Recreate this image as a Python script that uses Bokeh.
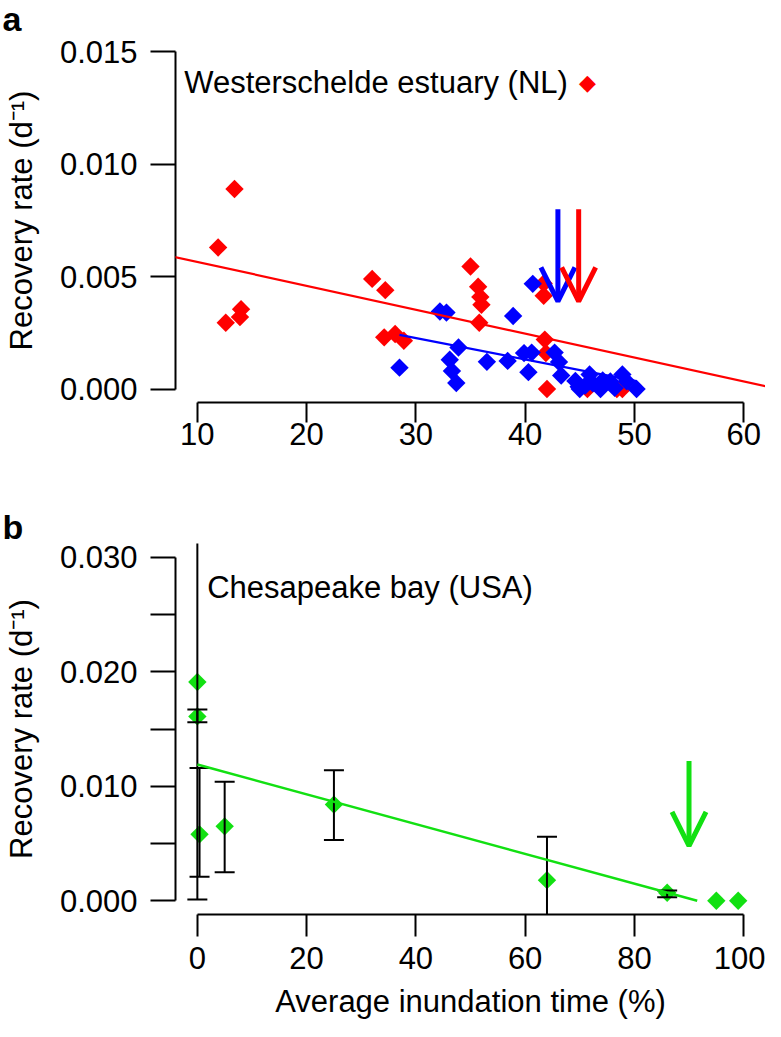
import numpy as np
from bokeh.plotting import figure
from bokeh.models import (LinearAxis, FixedTicker, PrintfTickFormatter, Arrow, OpenHead,
                          Slope, Label, Range1d)
from bokeh.layouts import column
from bokeh.embed import file_html
from bokeh.resources import INLINE

FONT = "Liberation Sans"

# ---------------- Panel a: Westerschelde estuary (NL) ----------------
red_x = [11.9, 13.4, 12.6, 13.9, 14.0, 26.0, 27.2, 27.1, 28.1, 28.9,
         35.0, 35.7, 35.9, 36.0, 35.8, 41.7, 41.7, 41.8, 41.9, 42.0,
         45.7, 48.4, 48.9]
red_y = [0.0063, 0.0089, 0.00295, 0.0032, 0.00355, 0.0049, 0.0044, 0.0023, 0.00245, 0.00215,
         0.00545, 0.00455, 0.0041, 0.00375, 0.00295, 0.0047, 0.00415, 0.0022, 0.0016, 0.0000,
         0.0000, 0.0000, 0.0000]
blue_x = [28.5, 32.2, 32.8, 33.9, 33.1, 33.3, 33.7, 36.5, 38.4, 38.9,
          40.7, 39.9, 40.6, 40.3, 42.7, 43.1, 43.3, 44.6, 45.0, 45.9,
          46.2, 46.9, 47.1, 47.8, 48.9, 49.3, 50.2, 45.5, 48.2, 44.9]
blue_y = [0.00095, 0.00345, 0.0034, 0.00185, 0.0013, 0.0008, 0.00027, 0.00121, 0.00125, 0.00325,
          0.00468, 0.0016, 0.00162, 0.00075, 0.00162, 0.0012, 0.0006, 0.00036, 0.0000, 0.00065,
          0.00025, 0.0000, 0.00038, 0.00034, 0.00065, 0.00034, 0.0000, 0.00015, 0.00005, 0.0001]
red_fit = [0.00672, -0.0001063]     # intercept, slope
blue_fit = [0.00511, -0.0000948]
a_arrow_x = [43.0, 44.9]
a_arrow_color = ["#0000FF", "#FF0000"]
a_arrow_top = [0.0080, 0.0080]
a_arrow_tip = [0.0039, 0.0039]
a_xticks = [10, 20, 30, 40, 50, 60]
a_yticks = [0.000, 0.005, 0.010, 0.015]

# ---------------- Panel b: Chesapeake bay (USA) ----------------
b_x = [0, 0, 0.4, 5, 25, 64, 86, 95, 99]
b_y = [0.0191, 0.0161, 0.0058, 0.0065, 0.0084, 0.0018, 0.0007, 0.0, 0.0]
b_lo = [0.0001, 0.0156, 0.0021, 0.0025, 0.0053, -0.0020, 0.0003, 0.0, 0.0]
b_hi = [0.0381, 0.0167, 0.0116, 0.0104, 0.0114, 0.0056, 0.0009, 0.0, 0.0]
green_fit = [0.0119, -0.00013005]
b_arrow_x = [90]
b_arrow_top = [0.0122]
b_arrow_tip = [0.0048]
b_xticks = [0, 20, 40, 60, 80, 100]
b_yticks = [0.00, 0.01, 0.02, 0.03]
b_yminor = [0.005, 0.015, 0.025]

RED, BLUE, GREEN = "#FF0000", "#0000FF", "#12E012"
YLABEL = "Recovery rate (d\u207b\u00b9)"
W = 765
LEFT = 173


def padded(lo, hi):
    pad = 0.04 * (hi - lo)
    return Range1d(lo - pad, hi + pad)


def make_fig(height, top, bottom, xt, yt):
    p = figure(width=W, height=height, x_range=padded(xt[0], xt[-1]),
               y_range=padded(yt[0], yt[-1]), output_backend="svg",
               toolbar_location=None, x_axis_type=None, y_axis_type=None,
               min_border_left=LEFT, min_border_right=0,
               min_border_top=top, min_border_bottom=bottom)
    p.outline_line_color = None
    p.background_fill_color = "white"
    p.border_fill_color = "white"
    return p


def style_axis(ax, tick_out, standoff, label_standoff):
    ax.axis_line_width = 2
    ax.axis_line_color = "black"
    ax.major_tick_line_width = 2
    ax.major_tick_line_color = "black"
    ax.minor_tick_line_width = 2
    ax.minor_tick_line_color = "black"
    ax.major_tick_in = 0
    ax.major_tick_out = tick_out
    ax.minor_tick_in = 0
    ax.minor_tick_out = tick_out
    ax.major_label_text_font = FONT
    ax.major_label_text_font_size = "31px"
    ax.major_label_text_color = "black"
    ax.major_label_standoff = standoff
    ax.axis_label_text_font = FONT
    ax.axis_label_text_font_size = "31px"
    ax.axis_label_text_font_style = "normal"
    ax.axis_label_text_color = "black"
    ax.axis_label_standoff = label_standoff


def diamonds(p, x, y, color):
    p.scatter(x, y, marker="square", angle=np.pi / 4, size=13,
              fill_color=color, line_color=None)


def panel_letter(p, letter, y):
    p.add_layout(Label(x=-LEFT, y=y, x_units="screen", y_units="screen", text=letter,
                       text_font=FONT, text_font_style="bold", text_font_size="34px",
                       text_color="black", text_baseline="alphabetic"), "above")


# ================= Panel a =================
pa = make_fig(480, 27, 78, a_xticks, a_yticks)
ya = LinearAxis(ticker=FixedTicker(ticks=a_yticks), formatter=PrintfTickFormatter(format="%.3f"),
                bounds=(a_yticks[0], a_yticks[-1]), axis_label=YLABEL)
style_axis(ya, 25, 13, 18)
pa.add_layout(ya, "left")
xa = LinearAxis(ticker=FixedTicker(ticks=a_xticks), bounds=(a_xticks[0], a_xticks[-1]))
style_axis(xa, 20, 0, 5)
pa.add_layout(xa, "below")

diamonds(pa, red_x, red_y, RED)
diamonds(pa, blue_x, blue_y, BLUE)
pa.add_layout(Slope(gradient=red_fit[1], y_intercept=red_fit[0], line_color=RED, line_width=2.2))
bx = np.array([min(blue_x), max(blue_x)])
pa.line(bx, blue_fit[0] + blue_fit[1] * bx, line_color=BLUE, line_width=2.2)
for x, c, t0, t1 in zip(a_arrow_x, a_arrow_color, a_arrow_top, a_arrow_tip):
    pa.add_layout(Arrow(end=OpenHead(size=34, line_color=c, line_width=5),
                        x_start=x, y_start=t0, x_end=x, y_end=t1,
                        line_color=c, line_width=5))
pa.add_layout(Label(x=8.8, y=0.0131, y_offset=12, text="Westerschelde estuary (NL)",
                    text_font=FONT, text_font_size="31px", text_color="black",
                    text_baseline="alphabetic"))
pa.add_layout(Label(x=45.7, y=0.01362, text="\u25c6", text_font="DejaVu Sans",
                    text_font_size="22px", text_color=RED, text_align="center",
                    text_baseline="middle"))
panel_letter(pa, "a", 20)

# ================= Panel b =================
pb = make_fig(541, 63, 102, b_xticks, b_yticks)
yb = LinearAxis(ticker=FixedTicker(ticks=b_yticks, minor_ticks=b_yminor),
                formatter=PrintfTickFormatter(format="%.3f"),
                bounds=(b_yticks[0], b_yticks[-1]), axis_label=YLABEL)
style_axis(yb, 25, 13, 18)
pb.add_layout(yb, "left")
xb = LinearAxis(ticker=FixedTicker(ticks=b_xticks), bounds=(b_xticks[0], b_xticks[-1]),
                axis_label="Average inundation time (%)")
style_axis(xb, 22, 10, 12)
pb.add_layout(xb, "below")

diamonds(pb, b_x, b_y, GREEN)
ex = [x for x, lo, hi in zip(b_x, b_lo, b_hi) if hi > lo]
elo = [lo for lo, hi in zip(b_lo, b_hi) if hi > lo]
ehi = [hi for lo, hi in zip(b_lo, b_hi) if hi > lo]
pb.segment(x0=ex, y0=elo, x1=ex, y1=ehi, line_color="black", line_width=2)
pb.scatter(ex + ex, elo + ehi, marker="dash", size=20, line_color="black", line_width=2)
gx = np.array([0.0, -green_fit[0] / green_fit[1]])
pb.line(gx, green_fit[0] + green_fit[1] * gx, line_color=GREEN, line_width=2.5)
for x, t0, t1 in zip(b_arrow_x, b_arrow_top, b_arrow_tip):
    pb.add_layout(Arrow(end=OpenHead(size=34, line_color=GREEN, line_width=5),
                        x_start=x, y_start=t0, x_end=x, y_end=t1,
                        line_color=GREEN, line_width=5))
pb.add_layout(Label(x=1.8, y=0.0263, y_offset=12, text="Chesapeake bay (USA)", text_font=FONT,
                    text_font_size="31px", text_color="black", text_baseline="alphabetic"))
panel_letter(pb, "b", 17)

layout = column(pa, pb, spacing=0)
open("out.html", "w").write(file_html(layout, INLINE))
